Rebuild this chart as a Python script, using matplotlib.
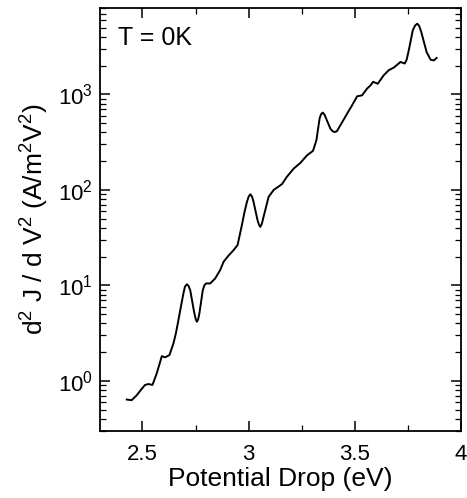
import matplotlib
matplotlib.use("Agg")
import matplotlib.pyplot as plt
from matplotlib.ticker import LogLocator, MultipleLocator, FixedFormatter, FixedLocator

# Data
energy_eV = [2.426, 2.449, 2.473, 2.495, 2.512, 2.528, 2.547, 2.567, 2.580, 2.591, 2.607, 2.627,
             2.646, 2.658, 2.669, 2.681, 2.693, 2.700, 2.709, 2.717, 2.725, 2.743, 2.750,
             2.756, 2.762, 2.768, 2.784, 2.792,
             2.800, 2.819, 2.842, 2.866, 2.882, 2.905, 2.929, 2.948, 2.968, 2.980, 2.992,
             3.000, 3.008, 3.016, 3.023, 3.042, 3.049, 3.055, 3.062, 3.070, 3.094, 3.118,
             3.140, 3.157, 3.180, 3.212,
             3.243, 3.275, 3.303, 3.319, 3.334, 3.341, 3.349, 3.357, 3.365, 3.385, 3.395,
             3.404, 3.415, 3.432, 3.464,
             3.487, 3.511, 3.534, 3.558, 3.574, 3.586, 3.608, 3.636, 3.660, 3.683, 3.715,
             3.735, 3.744, 3.754, 3.773, 3.784, 3.794, 3.803, 3.813, 3.838, 3.857, 3.872,
             3.885]
d2J = [0.64, 0.63, 0.71, 0.82, 0.91, 0.93, 0.91, 1.2, 1.5, 1.82, 1.77, 1.87,
       2.48, 3.2, 4.3, 6.0, 8.3, 9.7, 10.3, 9.9, 8.9, 5.3, 4.5,
       4.17, 4.4, 5.1, 8.9, 10.1,
       10.5, 10.5, 11.8, 14.5, 17.7, 20.5, 23.4, 26.5, 42.7, 58, 75,
       85, 90, 85, 75, 48, 43, 41, 44, 52, 84.5, 100,
       108, 115, 137, 167,
       191, 230, 256, 330, 557, 620, 644, 615, 557, 437, 412,
       403, 410, 474, 630,
       767, 953, 975, 1150, 1240, 1350, 1290, 1580, 1790, 1900, 2180,
       2100, 2300, 2880, 4680, 5250, 5480, 5200, 4480, 2770, 2300, 2260,
       2400]

xticks = [2.5, 3.0, 3.5, 4.0]
xtick_labels = ["2.5", "3", "3.5", "4"]
yticks = [1e0, 1e1, 1e2, 1e3]
ytick_labels = [r"10$^0$", r"10$^1$", r"10$^2$", r"10$^3$"]

plt.rcParams['font.family'] = ['Liberation Sans', 'DejaVu Sans']
plt.rcParams['mathtext.fontset'] = 'custom'
plt.rcParams['mathtext.rm'] = 'Liberation Sans'
plt.rcParams['mathtext.it'] = 'Liberation Sans'

fig = plt.figure(figsize=(4.67, 4.98), dpi=100)
ax = fig.add_axes([100/467, 1 - 431/498, 361/467, 423/498])

ax.plot(energy_eV, d2J, color='black', lw=1.4, solid_joinstyle='round')
ax.set_yscale('log')
ax.set_xlim(2.3, 4.0)
ax.set_ylim(0.3, 8000)

ax.xaxis.set_major_locator(FixedLocator(xticks))
ax.xaxis.set_major_formatter(FixedFormatter(xtick_labels))
ax.xaxis.set_minor_locator(MultipleLocator(0.25))
ax.yaxis.set_major_locator(FixedLocator(yticks))
ax.yaxis.set_major_formatter(FixedFormatter(ytick_labels))
ax.yaxis.set_minor_locator(LogLocator(base=10, subs=range(2, 10)))

ax.tick_params(which='both', direction='in', top=True, right=True, labelsize=16)
ax.tick_params(which='major', length=7, width=1.1)
ax.tick_params(which='minor', length=4, width=0.9)
ax.tick_params(axis='x', pad=9)
ax.tick_params(axis='y', pad=5)
for s in ax.spines.values():
    s.set_linewidth(1.3)

ax.set_xlabel("Potential Drop (eV)", fontsize=19, labelpad=2)
ax.set_ylabel(r"d$^2$ J / d V$^2$ (A/m$^2$V$^2$)", fontsize=19, labelpad=5)
ax.text(0.05, 0.93, "T = 0K", transform=ax.transAxes, fontsize=18, va='center', ha='left')

fig.savefig("out.png", dpi=100)
